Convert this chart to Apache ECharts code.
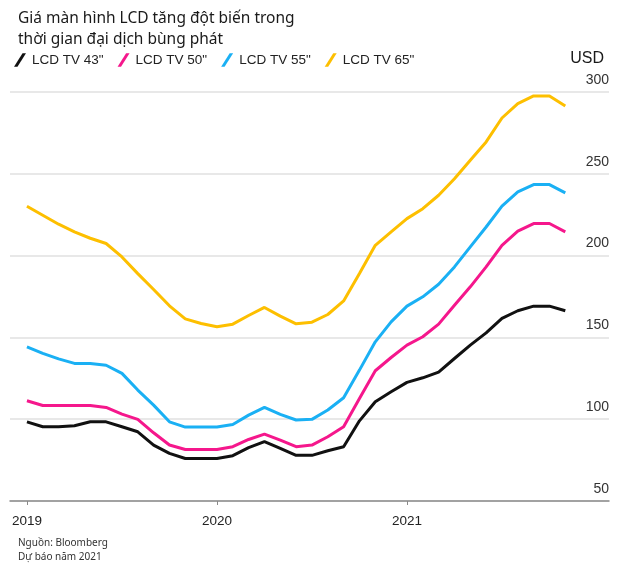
<!DOCTYPE html>
<html>
<head>
<meta charset="utf-8">
<script src="https://cdn.jsdelivr.net/npm/echarts@6/dist/echarts.min.js"></script>
<style>html,body{margin:0;padding:0;background:#fff}#c{width:630px;height:570px}</style>
</head>
<body>
<div id="c"></div>
<script>
// Monthly, Jan 2019 .. Nov 2021
var months = [
  '2019-01','2019-02','2019-03','2019-04','2019-05','2019-06','2019-07','2019-08','2019-09','2019-10','2019-11','2019-12',
  '2020-01','2020-02','2020-03','2020-04','2020-05','2020-06','2020-07','2020-08','2020-09','2020-10','2020-11','2020-12',
  '2021-01','2021-02','2021-03','2021-04','2021-05','2021-06','2021-07','2021-08','2021-09','2021-10','2021-11'
];
var tv43 = [98.4,95.4,95.4,96,98.4,98.4,95.4,92.3,84.2,79.1,76,76,76,77.7,82.6,86.3,82.2,77.9,77.9,80.7,83.2,99,110.7,116.8,122.5,125.3,128.8,137.1,145.3,152.8,161.6,166.3,169.1,169.1,166.3];
var tv50 = [111.3,108.4,108.4,108.4,108.4,107.2,103.1,99.9,91.7,84.2,81.5,81.5,81.5,83.2,87.6,90.9,87.2,83.2,84.2,89.3,95.4,112.7,129.6,137.7,145.3,150.4,158.1,169.7,180.9,193.1,206.3,214.9,219.6,219.6,214.5];
var tv55 = [144.2,140.2,136.9,134.1,134.1,133,128,117.8,108.6,98.4,95.2,95.2,95.2,96.8,102.5,107.2,102.9,99.5,99.9,105.6,113.1,130,147.3,159.5,169.1,174.8,182.5,193.1,205.3,217.5,230.2,238.9,243.4,243.4,238.3];
var tv65 = [230.2,224.7,219.2,214.5,210.6,207.4,199.2,189,179.3,169.3,161.3,158.5,156.5,158.1,163.4,168.3,163,158.3,159.3,164,172.3,189,206.3,214.5,222.6,228.7,236.9,247,258.3,269.5,284.1,292.9,297.6,297.6,291.4];
var seriesNames = ['LCD TV 43"', 'LCD TV 50"', 'LCD TV 55"', 'LCD TV 65"'];
var yearTicks = [0, 12, 24];
var yearLabels = ['2019', '2020', '2021'];

var colors = ['#111111', '#f5178c', '#1ab0f4', '#fdbf00'];
var allData = [tv43, tv50, tv55, tv65];
function pairs(arr){ return arr.map(function(v,i){ return [i, v]; }); }

var icon = 'path://M0,10 L2.6,10 L9,0 L6.4,0 Z';
var chart = echarts.init(document.getElementById('c'), null, {renderer:'canvas'});
chart.setOption({
  animation: false,
  color: colors,
  title: [
    {text: 'Giá màn hình LCD tăng đột biến trong\nthời gian đại dịch bùng phát', left: 13, top: 3,
     textStyle: {fontFamily: 'Noto Sans', fontSize: 15.5, fontWeight: 'normal', color: '#1a1a1a', lineHeight: 21}},
    {text: 'USD', right: 21, top: 45,
     textStyle: {fontFamily: 'Liberation Sans', fontSize: 16, fontWeight: 'normal', color: '#1a1a1a', lineHeight: 18}},
    {text: 'Nguồn: Bloomberg\nDự báo năm 2021', left: 13, top: 531,
     textStyle: {fontFamily: 'Noto Sans', fontSize: 10, fontWeight: 'normal', color: '#333', lineHeight: 14}}
  ],
  legend: {
    left: 9, top: 48, itemWidth: 12, itemHeight: 15, itemGap: 14, icon: icon,
    data: seriesNames,
    textStyle: {fontFamily: 'Liberation Sans', fontSize: 13.5, color: '#222', padding: [0,0,0,1]}
  },
  grid: {left: 10, right: 21, top: 92, bottom: 69, containLabel: false, outerBoundsMode: 'none'},
  xAxis: {
    type: 'value', min: -1.07, max: 36.76,
    axisLine: {show: true, lineStyle: {color: '#8a8a8a', width: 1.5}},
    axisTick: {show: true, customValues: yearTicks, length: 4, lineStyle: {color: '#8a8a8a', width: 1}},
    axisLabel: {customValues: yearTicks, margin: 13, color: '#222', fontFamily: 'Liberation Sans', fontSize: 13.5,
      formatter: function(v){ var k = yearTicks.indexOf(Math.round(v)); return k >= 0 ? yearLabels[k] : ''; }},
    splitLine: {show: false}
  },
  yAxis: {
    type: 'value', position: 'right', min: 50, max: 300, interval: 50,
    axisLine: {show: false}, axisTick: {show: false},
    axisLabel: {inside: true, margin: 0, verticalAlign: 'bottom', padding: [0,0,5,0], color: '#333', fontFamily: 'Liberation Sans', fontSize: 14},
    splitLine: {show: true, lineStyle: {color: '#e0e0e0', width: 1.5}}
  },
  series: allData.map(function(d, k){
    return {name: seriesNames[k], type: 'line', data: pairs(d), showSymbol: false, symbol: 'none',
      lineStyle: {width: 3, color: colors[k]}, itemStyle: {color: colors[k]}, z: 2 + k};
  })
});
</script>
</body>
</html>
